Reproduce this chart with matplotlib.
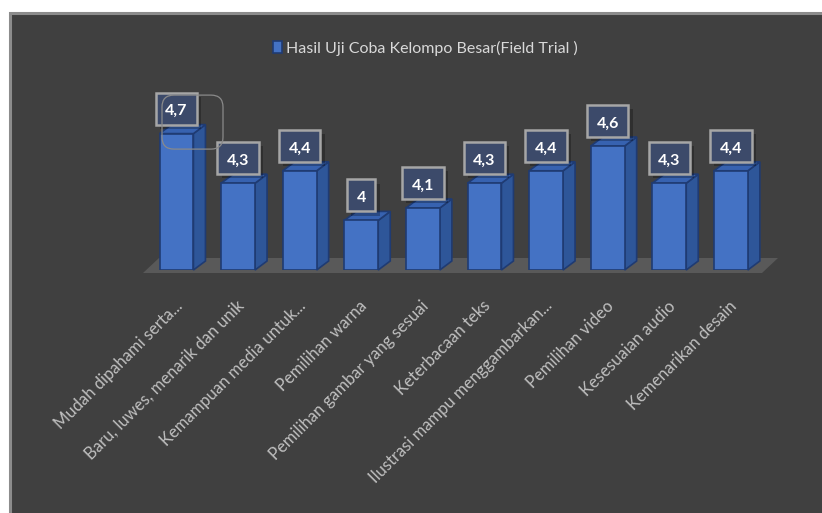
import matplotlib
matplotlib.use("Agg")
import matplotlib.pyplot as plt
from matplotlib.patches import Polygon, Rectangle, FancyBboxPatch
import matplotlib.transforms as mtransforms
import matplotlib.patheffects as pe

# --- data -------------------------------------------------------------
categories = [
    "Mudah dipahami serta...",
    "Baru, luwes, menarik dan unik",
    "Kemampuan media untuk...",
    "Pemilihan warna",
    "Pemilihan gambar yang sesuai",
    "Keterbacaan teks",
    "Ilustrasi mampu menggambarkan...",
    "Pemilihan video",
    "Kesesuaian audio",
    "Kemenarikan desain",
]
values = [4.7, 4.3, 4.4, 4.0, 4.1, 4.3, 4.4, 4.6, 4.3, 4.4]
series_name = "Hasil Uji Coba Kelompo Besar(Field Trial )"
y_min, y_max = 3.6, 5.0

# --- styling ----------------------------------------------------------
FONT = ["Lato", "DejaVu Sans"]
BG = "#404040"
FRONT = "#4472c4"
SIDE = "#2e5699"
TOP = "#3762b0"
EDGE = "#1f3b73"
FLOOR = "#595959"

W, H = 822, 513
fig = plt.figure(figsize=(W / 100, H / 100), dpi=100)
fig.patch.set_facecolor("white")
# pixel coordinates measured from the top-left corner
px = mtransforms.Affine2D().scale(1, -1).translate(0, H)

# chart panel with grey border
panel = Rectangle((9.5 / W, -0.05), 1.1, 1.05 - 12.5 / H,
                  transform=fig.transFigure, facecolor=BG,
                  edgecolor="#8c8c8c", linewidth=2.2, zorder=-10)
fig.patches.append(panel)

# plot area: category i centred at 176.5 + 61.6*i px, baseline at y=270 px
px_x = 61.6                      # pixels per category unit
px_per_val = 124.0               # pixels per value unit
x_left_px = 176.5 - 0.5 * px_x
x_right_px = 176.5 + 9.5 * px_x
base_px = 270
ax = fig.add_axes([x_left_px / W, (H - base_px) / H,
                   (x_right_px - x_left_px) / W, (y_max - y_min) * px_per_val / H])
ax.set_xlim(-0.5, 9.5)
ax.set_ylim(y_min, y_max)
ax.set_facecolor("none")
for s in ax.spines.values():
    s.set_visible(False)
ax.tick_params(axis="y", left=False, labelleft=False)
ax.tick_params(axis="x", length=0)

dx_bar, dy_bar = 12 / px_x, 9 / px_per_val
half_w = 0.275

# floor of the 3-D plot
f_front = y_min - 3 / px_per_val
f_l = (143 - 176.5) / px_x
f_r = (762 - 176.5) / px_x
fdx, fdy = 16 / px_x, 15 / px_per_val
ax.add_patch(Polygon([(f_l, f_front), (f_r, f_front), (f_r + fdx, f_front + fdy),
                      (f_l + fdx, f_front + fdy)], closed=True,
                     facecolor=FLOOR, edgecolor="none", zorder=1, clip_on=False))

# 3-D bars
for i, v in enumerate(values):
    x0, x1 = i - half_w, i + half_w
    side = Polygon([(x1, y_min), (x1 + dx_bar, y_min + dy_bar),
                    (x1 + dx_bar, v + dy_bar), (x1, v)], closed=True,
                   facecolor=SIDE, edgecolor=EDGE, linewidth=1.2, zorder=2,
                   clip_on=False)
    top = Polygon([(x0, v), (x1, v), (x1 + dx_bar, v + dy_bar),
                   (x0 + dx_bar, v + dy_bar)], closed=True,
                  facecolor=TOP, edgecolor=EDGE, linewidth=1.2, zorder=2,
                  clip_on=False)
    ax.add_patch(side)
    ax.add_patch(top)

bars = ax.bar(range(len(values)), [v - y_min for v in values], bottom=y_min,
              width=2 * half_w, color=FRONT, edgecolor=EDGE, linewidth=1.2,
              zorder=3, label=series_name)

# faint rounded outline hugging the top of the first bar
b0_top_px = base_px - (values[0] - y_min) * px_per_val
outline = FancyBboxPatch((162, b0_top_px - 38.5), 61, 54,
                         boxstyle="round,pad=0,rounding_size=12",
                         transform=px, facecolor="none", edgecolor="#8a8a8a",
                         linewidth=0.9, zorder=4)
fig.patches.append(outline)

# value labels: number text, then a framed box sized from the text extent
label_off = 25 / px_per_val
nudge = mtransforms.ScaledTranslation(0, -2.5 / 100, fig.dpi_scale_trans)
value_texts = []
for i, v in enumerate(values):
    t = ax.text(i, v + label_off, f"{v:g}".replace(".", ","),
                ha="center", va="center", fontsize=11.5, fontweight="bold",
                color="white", family=FONT, zorder=6, clip_on=False)
    t.set_transform(t.get_transform() + nudge)
    value_texts.append(t)

renderer = fig.canvas.get_renderer()
for i, (v, t) in enumerate(zip(values, value_texts)):
    w = t.get_window_extent(renderer).width + 19
    h = 32
    anchor = mtransforms.Affine2D() + mtransforms.ScaledTranslation(
        i, v + label_off, ax.transData)
    box = Rectangle((-w / 2, -h / 2), w, h, transform=anchor,
                    facecolor="#3c4a6a", edgecolor="#a6a6a6", linewidth=1.8,
                    zorder=5, clip_on=False)
    box.set_path_effects(
        [pe.SimplePatchShadow(offset=(3, -3), shadow_rgbFace="black", alpha=0.25),
         pe.Normal()])
    ax.add_patch(box)

# category labels
ax.set_xticks(range(len(categories)))
ax.set_xticklabels(categories, rotation=45, ha="right", va="top",
                   rotation_mode="anchor", color="#bfbfbf", fontsize=12,
                   family=FONT)
ax.tick_params(axis="x", pad=20)
shift = mtransforms.ScaledTranslation(-2 / 100, 0, fig.dpi_scale_trans)
for lab in ax.get_xticklabels():
    lab.set_transform(lab.get_transform() + shift)

# legend
leg = fig.legend(handles=[bars], labels=[series_name], loc="center",
                 bbox_to_anchor=(425 / W, 1 - 48 / H), frameon=False,
                 handlelength=0.55, handleheight=0.8, handletextpad=0.25,
                 prop={"family": FONT, "size": 11.5})
for t in leg.get_texts():
    t.set_color("#d9d9d9")

fig.savefig("out.png", dpi=100, facecolor=fig.get_facecolor())
